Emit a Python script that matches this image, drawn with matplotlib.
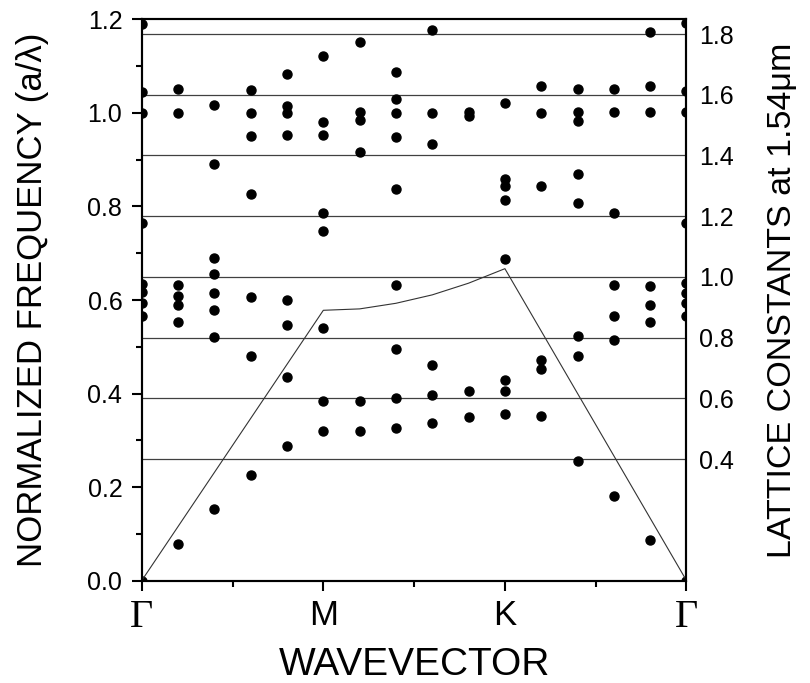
import matplotlib
matplotlib.use('Agg')
import matplotlib.pyplot as plt

plt.rcParams['font.family'] = ['Liberation Sans', 'DejaVu Sans']

# позиции точек вдоль пути Г-M-K-Г (16 колонок)
k_pos = [0.0, 0.2, 0.4, 0.6, 0.8, 1.0, 1.2, 1.4, 1.6, 1.8, 2.0, 2.2, 2.4, 2.6, 2.8, 3.0]

# нормированные частоты для каждой колонки
bands = [
    [0.0, 0.565, 0.593, 0.618, 0.635, 0.765, 1.0, 1.044, 1.191],
    [0.078, 0.553, 0.590, 0.608, 0.632, 1.0, 1.051],
    [0.153, 0.521, 0.579, 0.616, 0.655, 0.690, 0.891, 1.017],
    [0.226, 0.481, 0.606, 0.827, 0.950, 1.0, 1.050],
    [0.287, 0.435, 0.547, 0.599, 0.953, 1.0, 1.014, 1.083],
    [0.320, 0.385, 0.541, 0.747, 0.786, 0.953, 0.981, 1.121],
    [0.320, 0.385, 0.916, 0.985, 1.003, 1.152],
    [0.327, 0.390, 0.495, 0.632, 0.837, 0.948, 1.001, 1.030, 1.087],
    [0.337, 0.397, 0.462, 0.934, 1.001, 1.178],
    [0.349, 0.406, 0.994, 1.003],
    [0.356, 0.406, 0.429, 0.687, 0.814, 0.843, 0.859, 1.022],
    [0.352, 0.452, 0.472, 0.843, 1.001, 1.057],
    [0.256, 0.481, 0.522, 0.807, 0.869, 0.982, 1.003, 1.051],
    [0.180, 0.515, 0.566, 0.633, 0.787, 1.003, 1.051],
    [0.087, 0.552, 0.590, 0.629, 1.003, 1.057, 1.174],
    [0.0, 0.565, 0.593, 0.615, 0.636, 0.765, 1.003, 1.046, 1.192],
]

# световая линия
light_k = [0.0, 1.0, 1.2, 1.4, 1.6, 1.8, 2.0, 3.0]
light_f = [0.0, 0.578, 0.581, 0.593, 0.611, 0.636, 0.667, 0.0]

# постоянные решетки (мкм) при 1.54 мкм
wavelength = 1.54
lattice_consts = [0.4, 0.6, 0.8, 1.0, 1.2, 1.4, 1.6, 1.8]
lattice_labels = ['0.4', '0.6', '0.8', '1.0', '1.2', '1.4', '1.6', '1.8']

x_ticks = [0, 1, 2, 3]
x_labels = ['Γ', 'M', 'K', 'Γ']

fig = plt.figure(figsize=(8.1, 6.83), dpi=100)
ax = fig.add_axes([0.175, 0.150, 0.6725, 0.8215])
ax2 = ax.twinx()

for y in lattice_consts:
    ax2.axhline(y, color='#404040', lw=0.9)
ax2.set_ylim(0, 1.2 * wavelength)
ax2.set_yticks(lattice_consts)
ax2.set_yticklabels(lattice_labels, fontsize=18)
ax2.tick_params(axis='y', length=0, pad=9)
ax2.set_ylabel('LATTICE CONSTANTS at 1.54μm', fontsize=24.5)
ax2.yaxis.set_label_coords(1.148, 0.5)

ax.set_zorder(ax2.get_zorder() + 1)
ax.patch.set_visible(False)

for xk, col in zip(k_pos, bands):
    ax.plot([xk] * len(col), col, 'o', color='black', markersize=6.5, linestyle='none')

ax.plot(light_k, light_f, color='#333333', lw=0.8)

ax.set_xlim(0, 3)
ax.set_ylim(0, 1.2)
ax.set_xticks(x_ticks)
ax.set_xticks([0.5, 1.5, 2.5], minor=True)
ax.set_xticklabels(x_labels, fontsize=25)
for lbl in ax.get_xticklabels():
    if lbl.get_text() == 'Γ':
        lbl.set_fontfamily('Liberation Serif')
        lbl.set_fontsize(29)
ax.set_yticks([0.0, 0.2, 0.4, 0.6, 0.8, 1.0, 1.2])
ax.set_yticklabels(['0.0', '0.2', '0.4', '0.6', '0.8', '1.0', '1.2'], fontsize=18)
ax.set_yticks([0.1, 0.3, 0.5, 0.7, 0.9, 1.1], minor=True)
ax.tick_params(which='major', direction='out', length=7, width=1.5)
ax.tick_params(which='minor', direction='out', length=4, width=1.5)
ax.tick_params(axis='x', pad=6)
ax.tick_params(axis='y', pad=7)

ax.set_xlabel('WAVEVECTOR', fontsize=28, labelpad=8)
ax.set_ylabel('NORMALIZED FREQUENCY (a/λ)', fontsize=25)
ax.yaxis.set_label_coords(-0.17, 0.5)

for a in (ax, ax2):
    for s in a.spines.values():
        s.set_linewidth(1.5)

plt.savefig('out.png', dpi=100)
